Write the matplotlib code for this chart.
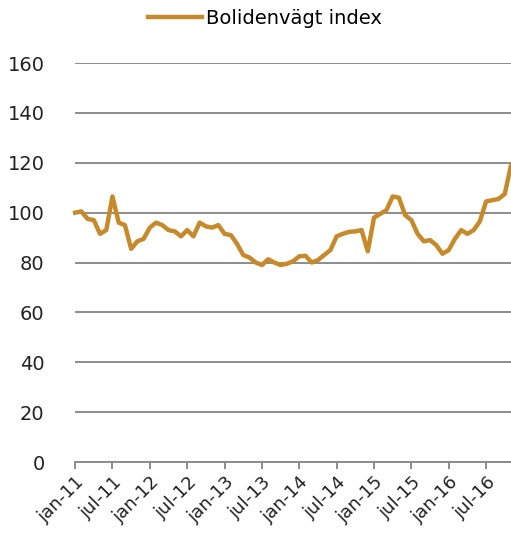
import numpy as np
import matplotlib
matplotlib.use("Agg")
import matplotlib.pyplot as plt

# monthly index values, jan-11 .. nov-16
values = [100, 100.5, 97.5, 97, 91.5, 93, 106.5, 96, 95, 85.5, 88.5, 89.5,
          94, 96, 95, 93, 92.5, 90.5, 93, 90.5, 96, 94.5, 94, 95,
          91.5, 91, 87.5, 83, 82, 80, 79, 81.3, 80, 79, 79.5, 80.5,
          82.5, 82.7, 80, 81, 83, 85, 90.5, 91.5, 92.3, 92.5, 93, 84.5,
          98, 99.5, 101, 106.5, 106, 99, 97, 91.5, 88.5, 89, 87, 83.5,
          85, 89.5, 93, 91.5, 93, 96.5, 104.5, 105, 105.5, 107.5, 119]
tick_labels = ["jan-11", "jul-11", "jan-12", "jul-12", "jan-13", "jul-13",
               "jan-14", "jul-14", "jan-15", "jul-15", "jan-16", "jul-16"]
series_name = "Bolidenvägt index"

color = "#C68A2A"
grid_col = "#8c8c8c"

fig = plt.figure(figsize=(5.11, 5.40), dpi=100)
ax = fig.add_axes([0.147, 0.1444, 0.853, 0.7389])

x = np.arange(len(values))
ax.plot(x, values, color=color, lw=3.2, label=series_name, clip_on=False,
        solid_joinstyle="round", zorder=3)

ax.set_ylim(0, 160)
ax.set_xlim(0, len(values) - 1)
ax.set_yticks(range(0, 161, 20))
ax.yaxis.grid(True, color=grid_col, lw=1.4)
ax.set_axisbelow(True)
ax.tick_params(axis="y", length=0, labelsize=14, pad=22, labelcolor="#222222")

ax.set_xticks(np.arange(0, len(values), 6))
ax.set_xticklabels(tick_labels, rotation=45, ha="right", rotation_mode="anchor",
                   fontsize=13, color="#222222")
ax.tick_params(axis="x", length=5, width=1.4, color=grid_col, pad=3)

for s in ["top", "right", "left"]:
    ax.spines[s].set_visible(False)
ax.spines["bottom"].set_color(grid_col)
ax.spines["bottom"].set_linewidth(1.4)

fig.legend(loc="center", bbox_to_anchor=(265 / 511, 1 - 18 / 540), frameon=False,
           fontsize=14, handlelength=2.8, handletextpad=0.2)

fig.savefig("out.png", dpi=100)
